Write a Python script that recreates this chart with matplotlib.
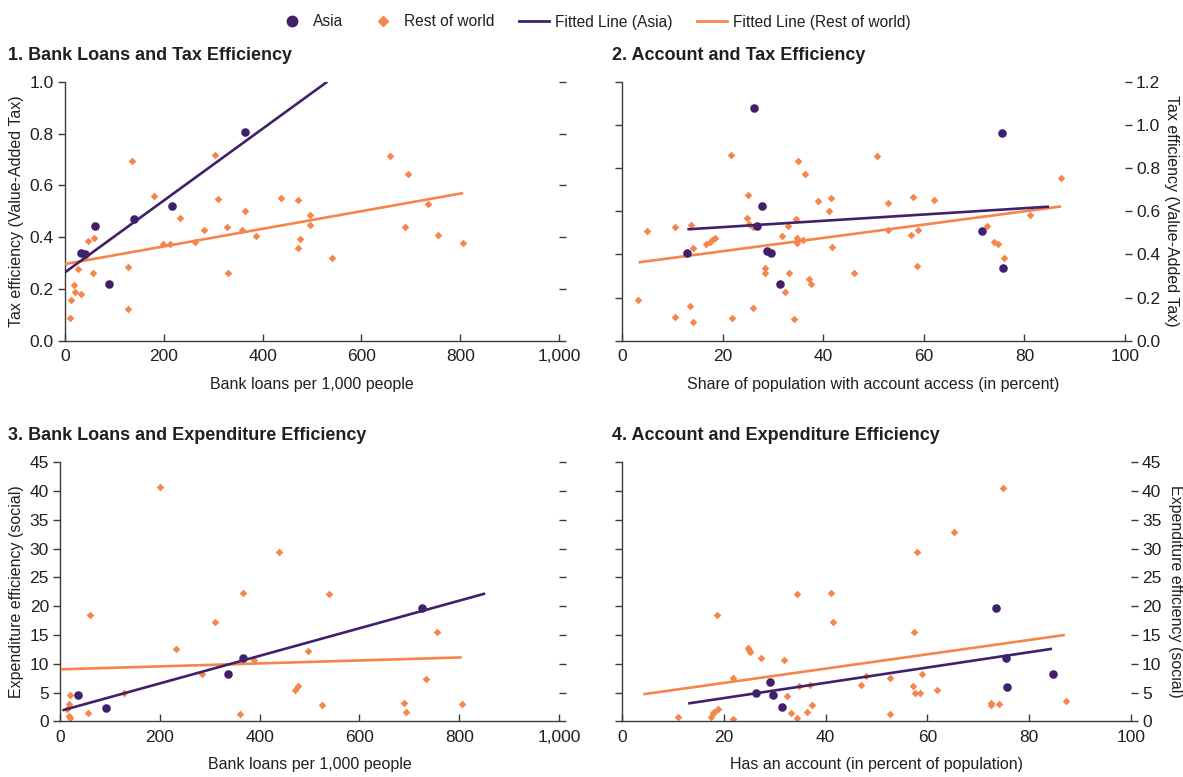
import matplotlib
matplotlib.use('Agg')
import matplotlib.pyplot as plt
from matplotlib.lines import Line2D
from matplotlib.ticker import FuncFormatter

plt.rcParams['font.family'] = ['Liberation Sans', 'DejaVu Sans']

PURPLE = '#41206b'
ORANGE = '#f5854a'
TEXT = '#231f20'
AXC = '#3a3a3a'

# ---------------- Panel 1: Bank loans vs tax efficiency ----------------
p1_asia_x = [33, 40, 60, 139, 216, 365, 89]
p1_asia_y = [0.340, 0.335, 0.443, 0.471, 0.521, 0.804, 0.219]
p1_row_x = [10, 12, 18, 21, 33, 27, 46, 58, 57, 127, 128, 135, 181, 199, 213, 232, 263,
            282, 303, 310, 328, 329, 358, 365, 387, 438, 472, 472, 476, 495, 495, 540,
            658, 695, 689, 735, 756, 806]
p1_row_y = [0.089, 0.157, 0.216, 0.188, 0.180, 0.278, 0.386, 0.396, 0.260, 0.284, 0.124,
            0.694, 0.560, 0.373, 0.373, 0.474, 0.382, 0.427, 0.716, 0.547, 0.438, 0.263,
            0.427, 0.499, 0.404, 0.552, 0.542, 0.359, 0.394, 0.484, 0.447, 0.318, 0.713,
            0.645, 0.440, 0.529, 0.407, 0.378]
p1_fit_asia_x = [0, 531]
p1_fit_asia_y = [0.264, 1.0]
p1_fit_row_x = [0, 806]
p1_fit_row_y = [0.296, 0.570]

# ---------------- Panel 2: Account vs tax efficiency ----------------
p2_asia_x = [26.3, 75.5, 27.9, 26.9, 13.0, 28.9, 29.6, 31.4, 71.6, 75.8]
p2_asia_y = [1.076, 0.964, 0.625, 0.533, 0.408, 0.417, 0.408, 0.264, 0.508, 0.338]
p2_row_x = [3.2, 5.0, 10.6, 10.6, 13.5, 13.8, 14.1, 14.2, 16.7, 17.4, 17.8, 18.5, 21.7,
            21.8, 24.8, 25.0, 25.3, 26.0, 26.0, 28.4, 28.4, 31.8, 32.5, 33.0, 33.3, 34.2,
            34.5, 34.7, 34.8, 34.9, 36.0, 36.4, 37.1, 37.5, 39.0, 41.1, 41.5, 41.8, 46.1,
            50.6, 52.8, 52.8, 57.4, 57.9, 58.6, 58.8, 62.0, 72.5, 74.0, 74.8, 76.0, 81.2,
            87.3]
p2_row_y = [0.190, 0.507, 0.110, 0.528, 0.162, 0.534, 0.428, 0.086, 0.449, 0.457, 0.465,
            0.476, 0.860, 0.105, 0.568, 0.675, 0.542, 0.528, 0.150, 0.338, 0.315, 0.486,
            0.224, 0.533, 0.314, 0.100, 0.565, 0.474, 0.451, 0.832, 0.465, 0.774, 0.286,
            0.261, 0.646, 0.602, 0.659, 0.432, 0.315, 0.857, 0.636, 0.513, 0.488, 0.664,
            0.344, 0.513, 0.650, 0.530, 0.456, 0.449, 0.381, 0.582, 0.755]
p2_fit_asia_x = [13.0, 84.9]
p2_fit_asia_y = [0.516, 0.621]
p2_fit_row_x = [3.3, 87.3]
p2_fit_row_y = [0.363, 0.622]

# ---------------- Panel 3: Bank loans vs expenditure efficiency ----------------
p3_asia_x = [36, 92, 336, 366, 726]
p3_asia_y = [4.57, 2.32, 8.28, 11.0, 19.7]
p3_row_x = [14, 18, 21, 18, 21, 56, 61, 128, 201, 233, 284, 310, 361, 367, 389, 438,
            471, 476, 497, 526, 539, 689, 694, 733, 755, 805]
p3_row_y = [2.08, 2.95, 0.64, 0.95, 4.52, 1.51, 18.4, 4.98, 40.7, 12.6, 8.22, 17.2, 1.27,
            22.3, 10.7, 29.4, 5.44, 6.14, 12.2, 2.78, 22.1, 3.18, 1.56, 7.30, 15.6, 3.01]
p3_fit_asia_x = [5, 852]
p3_fit_asia_y = [1.91, 22.2]
p3_fit_row_x = [1.5, 805]
p3_fit_row_y = [9.03, 11.1]

# ---------------- Panel 4: Account vs expenditure efficiency ----------------
p4_asia_x = [26.3, 29.0, 29.6, 31.4, 73.4, 75.4, 75.6, 84.7]
p4_asia_y = [4.86, 6.89, 4.63, 2.43, 19.6, 11.0, 6.02, 8.28]
p4_row_x = [11.1, 17.4, 17.8, 18.0, 18.8, 18.6, 21.9, 21.9, 24.7, 25.0, 25.2, 27.4, 31.8,
            32.4, 33.2, 34.3, 34.3, 34.7, 36.3, 36.9, 37.4, 41.1, 41.5, 47.0, 48.0, 52.7,
            52.7, 57.2, 57.4, 57.6, 57.9, 58.5, 58.9, 61.9, 65.3, 72.4, 72.5, 74.0, 74.8,
            87.2]
p4_row_y = [0.81, 0.69, 1.39, 1.6, 2.08, 18.4, 0.41, 7.59, 12.7, 12.4, 12.0, 11.0, 10.7,
            4.46, 1.39, 22.1, 0.58, 6.2, 1.62, 6.31, 2.84, 22.3, 17.2, 6.31, 7.93, 7.47,
            1.27, 6.2, 15.6, 4.98, 29.4, 4.98, 8.28, 5.44, 32.9, 3.24, 2.78, 3.07, 40.6,
            3.47]
p4_fit_asia_x = [13.0, 84.5]
p4_fit_asia_y = [3.1, 12.6]
p4_fit_row_x = [4.2, 87.0]
p4_fit_row_y = [4.7, 15.0]

titles = ['1. Bank Loans and Tax Efficiency', '2. Account and Tax Efficiency',
          '3. Bank Loans and Expenditure Efficiency', '4. Account and Expenditure Efficiency']
xlabels = ['Bank loans per 1,000 people', 'Share of population with account access (in percent)',
           'Bank loans per 1,000 people', 'Has an account (in percent of population)']
ylabels = ['Tax efficiency (Value-Added Tax)', 'Tax efficiency (Value-Added Tax)',
           'Expenditure efficiency (social)', 'Expenditure efficiency (social)']
loan_ticks = [0, 200, 400, 600, 800, 1000]
pct_ticks = [0, 20, 40, 60, 80, 100]
tax_ticks_1 = [0.0, 0.2, 0.4, 0.6, 0.8, 1.0]
tax_ticks_2 = [0.0, 0.2, 0.4, 0.6, 0.8, 1.0, 1.2]
exp_ticks = [0, 5, 10, 15, 20, 25, 30, 35, 40, 45]

W, H = 1183, 777
fig = plt.figure(figsize=(W / 100, H / 100), dpi=100)

def frac(l, r, t, b):
    return [l / W, 1 - b / H, (r - l) / W, (b - t) / H]

axes_px = [(65, 559, 81.7, 340.7), (622, 1125, 81.7, 340.7),
           (60, 559, 462.3, 721.3), (622, 1131, 462.3, 721.3)]
title_pos = [(8, 55), (612, 55), (8, 436), (612, 436)]
ylabel_px = [17, 1171, 17, 1175]

panels = [
    (p1_asia_x, p1_asia_y, p1_row_x, p1_row_y, p1_fit_asia_x, p1_fit_asia_y, p1_fit_row_x, p1_fit_row_y,
     loan_ticks, tax_ticks_1, 'left', '{:.1f}'),
    (p2_asia_x, p2_asia_y, p2_row_x, p2_row_y, p2_fit_asia_x, p2_fit_asia_y, p2_fit_row_x, p2_fit_row_y,
     pct_ticks, tax_ticks_2, 'right', '{:.1f}'),
    (p3_asia_x, p3_asia_y, p3_row_x, p3_row_y, p3_fit_asia_x, p3_fit_asia_y, p3_fit_row_x, p3_fit_row_y,
     loan_ticks, exp_ticks, 'left', '{:.0f}'),
    (p4_asia_x, p4_asia_y, p4_row_x, p4_row_y, p4_fit_asia_x, p4_fit_asia_y, p4_fit_row_x, p4_fit_row_y,
     pct_ticks, exp_ticks, 'right', '{:.0f}'),
]

for i, (ax_x, ax_y, rw_x, rw_y, fax, fay, frx, fry, xt, yt, side, yfmt) in enumerate(panels):
    l, r, t, b = axes_px[i]
    ax = fig.add_axes(frac(l, r, t, b))
    ax.scatter(rw_x, rw_y, marker='D', s=15, color=ORANGE, linewidths=0, zorder=2)
    ax.plot(frx, fry, color=ORANGE, lw=1.9, zorder=3, solid_capstyle='butt')
    ax.plot(fax, fay, color=PURPLE, lw=1.9, zorder=3, solid_capstyle='butt')
    ax.scatter(ax_x, ax_y, marker='o', s=38, color=PURPLE, linewidths=0, zorder=4)
    ax.set_xlim(xt[0], xt[-1])
    ax.set_ylim(yt[0], yt[-1])
    ax.set_xticks(xt)
    ax.set_yticks(yt)
    ax.xaxis.set_major_formatter(FuncFormatter(lambda v, p: '{:,.0f}'.format(v)))
    ax.yaxis.set_major_formatter(FuncFormatter(lambda v, p, f=yfmt: f.format(v)))
    for s in ['top', 'right']:
        ax.spines[s].set_visible(False)
    for s in ['left', 'bottom']:
        ax.spines[s].set_color(AXC)
        ax.spines[s].set_linewidth(1.0)
    ax.tick_params(axis='x', direction='in', length=5, width=1, color=AXC,
                   labelsize=12.5, labelcolor=TEXT, pad=6)
    ax.tick_params(axis='y', direction='out', length=5, width=1, color=AXC,
                   left=True, right=True, labelsize=12.5, labelcolor=TEXT, pad=3,
                   labelleft=(side == 'left'), labelright=(side == 'right'))
    ax.set_xlabel(xlabels[i], fontsize=11.5, color=TEXT, labelpad=9)
    if side == 'right':
        ax.yaxis.set_label_position('right')
        ax.set_ylabel(ylabels[i], fontsize=11.5, color=TEXT, rotation=270,
                      va='center', ha='center')
    else:
        ax.set_ylabel(ylabels[i], fontsize=11.5, color=TEXT, va='center', ha='center')
    ax.yaxis.set_label_coords((ylabel_px[i] - l) / (r - l), 0.5)
    tx, ty = title_pos[i]
    fig.text(tx / W, 1 - ty / H, titles[i], fontsize=13, fontweight='bold',
             color=TEXT, ha='left', va='center')

handles = [
    Line2D([], [], marker='o', linestyle='none', color=PURPLE, markersize=7.5),
    Line2D([], [], marker='D', linestyle='none', color=ORANGE, markersize=5),
    Line2D([], [], color=PURPLE, lw=2),
    Line2D([], [], color=ORANGE, lw=2),
]
labels = ['Asia', 'Rest of world', 'Fitted Line (Asia)', 'Fitted Line (Rest of world)']
fig.legend(handles, labels, loc='center', bbox_to_anchor=(0.502, 1 - 22 / H), ncol=4,
           frameon=False, fontsize=11.2, handlelength=1.9, handletextpad=0.4,
           columnspacing=1.6, labelcolor=TEXT)

fig.savefig('out.png', dpi=100)
